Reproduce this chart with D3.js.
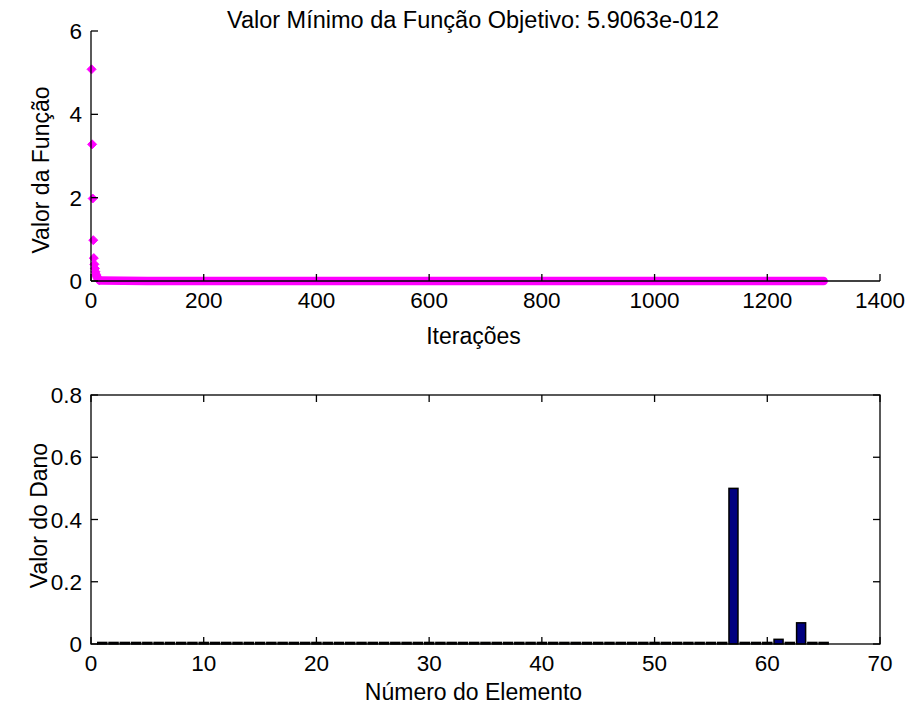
<!DOCTYPE html>
<html><head><meta charset="utf-8">
<script src="https://cdn.jsdelivr.net/npm/d3@7"></script>
<style>body{margin:0;background:#fff}svg{display:block}text{font-family:"Liberation Sans",Arial,sans-serif;fill:#000}</style>
</head><body><svg id="c" width="907" height="709"></svg>
<script>
// ---- data ----
const titleText = "Valor Mínimo da Função Objetivo: 5.9063e-012";
const headIterations = [1,2,3,4,5,6,7,8,9,10,11,12,13,14,15];
const headValues = [5.08,3.28,1.98,0.98,0.55,0.40,0.30,0.22,0.16,0.12,0.09,0.06,0.04,0.03,0.02];
const tailIterations = [16,100,200,300,400,500,600,700,800,900,1000,1100,1200,1300];
const tailValues = [0.01,0,0,0,0,0,0,0,0,0,0,0,0,0];
const topXTicks = [0,200,400,600,800,1000,1200,1400];
const topYTicks = [0,2,4,6];

const elements = d3.range(1,66);
const damage = [0.005,0.005,0.005,0.005,0.005,0.005,0.005,0.005,0.005,0.005,
0.005,0.005,0.005,0.005,0.005,0.005,0.005,0.005,0.005,0.005,
0.005,0.005,0.005,0.005,0.005,0.005,0.005,0.005,0.005,0.005,
0.005,0.005,0.005,0.005,0.005,0.005,0.005,0.005,0.005,0.005,
0.005,0.005,0.005,0.005,0.005,0.005,0.005,0.005,0.005,0.005,
0.005,0.005,0.005,0.005,0.005,0.005,0.500,0.005,0.005,0.005,
0.015,0.005,0.068,0.005,0.005];
const botXTicks = [0,10,20,30,40,50,60,70];
const botYTicks = [0,0.2,0.4,0.6,0.8];
const botYLabels = ["0","0.2","0.4","0.6","0.8"];

// ---- layout ----
const svg = d3.select("#c");
const FS = 23, TFS = 22.5, TL = 7;
const L = 91, R = 880;
const top1 = 31, bot1 = 281, top2 = 395, bot2 = 644;

// ---- top chart ----
const x1 = d3.scaleLinear().domain([0,1400]).range([L,R]);
const y1 = d3.scaleLinear().domain([0,6]).range([bot1,top1]);
const g1 = svg.append("g");
const mag = "#ff00ff";
const tail = tailIterations.map((d,i)=>[d,tailValues[i]]);
g1.append("path").attr("d", d3.line().x(d=>x1(d[0])).y(d=>y1(d[1]))(tail))
  .attr("fill","none").attr("stroke",mag).attr("stroke-width",8.5).attr("stroke-linecap","round").attr("stroke-linejoin","round");
const diamond = (cx,cy)=>`M${cx},${cy-4.5}L${cx+4.5},${cy}L${cx},${cy+4.5}L${cx-4.5},${cy}Z`;
g1.selectAll("path.mk").data(headIterations).join("path").attr("class","mk")
  .attr("d",(d,i)=>diamond(x1(d),y1(headValues[i]))).attr("fill",mag).attr("stroke",mag).attr("stroke-width",1);
const ax1 = svg.append("g").attr("stroke","#000").attr("stroke-width",1.3).attr("fill","none");
ax1.append("line").attr("x1",L).attr("x2",R).attr("y1",bot1).attr("y2",bot1);
ax1.append("line").attr("x1",L).attr("x2",L).attr("y1",top1).attr("y2",bot1);
ax1.selectAll("line.xt").data(topXTicks).join("line").attr("class","xt")
  .attr("x1",d=>x1(d)).attr("x2",d=>x1(d)).attr("y1",bot1).attr("y2",bot1-TL);
ax1.selectAll("line.yt").data(topYTicks).join("line").attr("class","yt")
  .attr("x1",L).attr("x2",L+TL).attr("y1",d=>y1(d)).attr("y2",d=>y1(d));
svg.append("g").selectAll("text").data(topXTicks).join("text")
  .attr("x",d=>x1(d)).attr("y",bot1+27).attr("text-anchor","middle").attr("font-size",TFS).text(d=>d);
svg.append("g").selectAll("text").data(topYTicks).join("text")
  .attr("x",L-9).attr("y",d=>y1(d)).attr("dy","0.36em").attr("text-anchor","end").attr("font-size",TFS).text(d=>d);
svg.append("text").attr("x",473).attr("y",28).attr("text-anchor","middle").attr("font-size",FS+0.5).text(titleText);
svg.append("text").attr("x",(L+R)/2-12).attr("y",344).attr("text-anchor","middle").attr("font-size",FS).text("Iterações");
svg.append("text").attr("transform",`translate(49,${(top1+bot1)/2+14}) rotate(-90)`).attr("text-anchor","middle").attr("font-size",FS).text("Valor da Função");

// ---- bottom chart ----
const x2 = d3.scaleLinear().domain([0,70]).range([L,R]);
const y2 = d3.scaleLinear().domain([0,0.8]).range([bot2,top2]);
const bw = (x2(0.8)-x2(0));
svg.append("g").selectAll("rect").data(elements).join("rect")
  .attr("x",d=>x2(d)-bw/2).attr("width",bw)
  .attr("y",(d,i)=>y2(damage[i])).attr("height",(d,i)=>y2(0)-y2(damage[i]))
  .attr("fill","#000080").attr("stroke","#000").attr("stroke-width",1.5);
const ax2 = svg.append("g").attr("stroke","#000").attr("stroke-width",1.3).attr("fill","none");
ax2.append("rect").attr("x",L).attr("y",top2).attr("width",R-L).attr("height",bot2-top2);
ax2.selectAll("line.xb").data(botXTicks).join("line").attr("class","xb")
  .attr("x1",d=>x2(d)).attr("x2",d=>x2(d)).attr("y1",bot2).attr("y2",bot2-TL);
ax2.selectAll("line.xtp").data(botXTicks).join("line").attr("class","xtp")
  .attr("x1",d=>x2(d)).attr("x2",d=>x2(d)).attr("y1",top2).attr("y2",top2+TL);
ax2.selectAll("line.yl").data(botYTicks).join("line").attr("class","yl")
  .attr("x1",L).attr("x2",L+TL).attr("y1",d=>y2(d)).attr("y2",d=>y2(d));
ax2.selectAll("line.yr").data(botYTicks).join("line").attr("class","yr")
  .attr("x1",R).attr("x2",R-TL).attr("y1",d=>y2(d)).attr("y2",d=>y2(d));
svg.append("g").selectAll("text").data(botXTicks).join("text")
  .attr("x",d=>x2(d)).attr("y",bot2+27).attr("text-anchor","middle").attr("font-size",TFS).text(d=>d);
svg.append("g").selectAll("text").data(botYTicks).join("text")
  .attr("x",L-9).attr("y",d=>y2(d)).attr("dy","0.36em").attr("text-anchor","end").attr("font-size",TFS).text((d,i)=>botYLabels[i]);
svg.append("text").attr("x",(L+R)/2-12).attr("y",700).attr("text-anchor","middle").attr("font-size",FS).text("Número do Elemento");
svg.append("text").attr("transform",`translate(47,${(top2+bot2)/2-4}) rotate(-90)`).attr("text-anchor","middle").attr("font-size",FS).text("Valor do Dano");
</script></body></html>
